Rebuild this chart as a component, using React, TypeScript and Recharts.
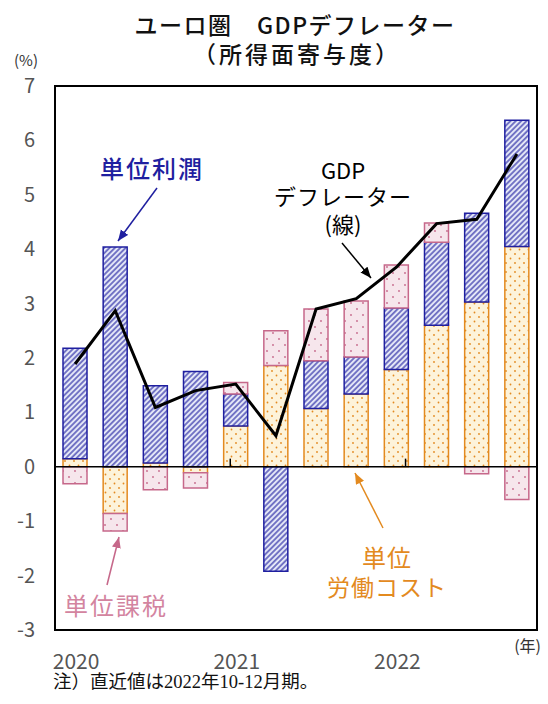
import React from "react";
import { Bar, ComposedChart, Line, ReferenceArea, ReferenceLine, XAxis, YAxis } from "recharts";

const quarters = ["2020Q1", "2020Q2", "2020Q3", "2020Q4", "2021Q1", "2021Q2", "2021Q3", "2021Q4", "2022Q1", "2022Q2", "2022Q3", "2022Q4"];
const laborCost = [0.15, -0.86, 0.07, -0.11, 0.75, 1.86, 1.07, 1.34, 1.79, 2.6, 3.03, 4.05];
const unitProfit = [2.03, 4.04, 1.42, 1.75, 0.59, -1.92, 0.88, 0.68, 1.13, 1.53, 1.63, 2.32];
const unitTax = [-0.31, -0.32, -0.42, -0.28, 0.21, 0.64, 0.95, 1.03, 0.79, 0.35, -0.13, -0.6];
const deflator = [1.89, 2.87, 1.09, 1.4, 1.52, 0.57, 2.9, 3.09, 3.67, 4.47, 4.55, 5.75];
const yTicks = [-3, -2, -1, 0, 1, 2, 3, 4, 5, 6, 7];
const yearBoundaries = [4, 8];

const data = quarters.map((q, i) => ({
  q,
  labor: laborCost[i],
  profit: unitProfit[i],
  tax: unitTax[i],
  deflator: deflator[i],
}));

const jp = "'Noto Sans CJK JP', 'Noto Sans', sans-serif";
const blue = "#1f1fa0";
const orange = "#e38a1f";
const pink = "#c6688a";

const YearTick = (props: any) => {
  const { x, y, payload } = props;
  const label = String(payload.value);
  if (!label.endsWith("Q1")) return null;
  return (
    <text x={x + 1} y={y + 39} textAnchor="middle" fontSize={21} fill="#555" fontFamily={jp}>
      {label.slice(0, 4)}
    </text>
  );
};

const ValueTick = (props: any) => {
  const { y, payload } = props;
  return (
    <text x={35} y={y + 7} textAnchor="end" fontSize={20} fill="#555" fontFamily={jp}>
      {payload.value}
    </text>
  );
};

export default function App() {
  return (
    <div style={{ position: "absolute", left: 0, top: 0, width: 548, height: 704, background: "#fff" }}>
      <svg width={0} height={0} style={{ position: "absolute" }}>
        <defs>
          <pattern id="hatchBlue" patternUnits="userSpaceOnUse" width={3.8} height={3.8} patternTransform="rotate(45)">
            <rect width={3.8} height={3.8} fill="#e4e7f7" />
            <line x1={1.9} y1={0} x2={1.9} y2={3.8} stroke="#2d2da6" strokeWidth={1.2} />
          </pattern>
          <pattern id="dotOrange" patternUnits="userSpaceOnUse" width={9} height={9}>
            <rect width={9} height={9} fill="#fdf3da" />
            <circle cx={2} cy={2} r={0.9} fill={orange} />
            <circle cx={6.5} cy={6.5} r={0.9} fill={orange} />
          </pattern>
          <pattern id="dotPink" patternUnits="userSpaceOnUse" width={12} height={12}>
            <rect width={12} height={12} fill="#f6e6ec" />
            <circle cx={3} cy={3} r={0.9} fill={pink} />
            <circle cx={9} cy={9} r={0.9} fill={pink} />
          </pattern>
          <marker id="arBlue" markerUnits="userSpaceOnUse" markerWidth={12} markerHeight={10} refX={11} refY={4.5} orient="auto">
            <path d="M0,0 L11,4.5 L0,9 z" fill={blue} />
          </marker>
          <marker id="arBlack" markerUnits="userSpaceOnUse" markerWidth={12} markerHeight={10} refX={11} refY={4.5} orient="auto">
            <path d="M0,0 L11,4.5 L0,9 z" fill="#000" />
          </marker>
          <marker id="arPink" markerUnits="userSpaceOnUse" markerWidth={12} markerHeight={10} refX={11} refY={4.5} orient="auto">
            <path d="M0,0 L11,4.5 L0,9 z" fill={pink} />
          </marker>
          <marker id="arOrange" markerUnits="userSpaceOnUse" markerWidth={12} markerHeight={10} refX={11} refY={4.5} orient="auto">
            <path d="M0,0 L11,4.5 L0,9 z" fill={orange} />
          </marker>
        </defs>
      </svg>

      <ComposedChart
        width={548}
        height={704}
        data={data}
        stackOffset="sign"
        margin={{ top: 86, right: 11, bottom: 34, left: 0 }}
      >
        <XAxis dataKey="q" height={40} axisLine={false} tickLine={false} tickSize={0} tickMargin={0} interval={0} tick={<YearTick />} />
        <XAxis xAxisId="n" type="number" domain={[0, 12]} hide />
        <YAxis width={55} domain={[-3, 7]} ticks={yTicks} interval={0} axisLine={false} tickLine={false} tick={<ValueTick />} />
        <Bar dataKey="labor" stackId="s" barSize={24} fill="url(#dotOrange)" stroke={orange} strokeWidth={1.5} isAnimationActive={false} />
        <Bar dataKey="profit" stackId="s" barSize={24} fill="url(#hatchBlue)" stroke={blue} strokeWidth={1.5} isAnimationActive={false} />
        <Bar dataKey="tax" stackId="s" barSize={24} fill="url(#dotPink)" stroke={pink} strokeWidth={1.5} isAnimationActive={false} />
        <ReferenceLine y={0} stroke="#000" strokeWidth={1.5} />
        {yearBoundaries.map((b) => (
          <ReferenceLine
            key={b}
            xAxisId="n"
            segment={[{ x: b, y: 0 }, { x: b, y: 0.15 }]}
            stroke="#000"
            strokeWidth={1.5}
          />
        ))}
        <Line dataKey="deflator" type="linear" stroke="#000" strokeWidth={3} dot={false} isAnimationActive={false} />
        <ReferenceArea y1={-3} y2={7} fill="none" stroke="#000" strokeWidth={2} ifOverflow="visible" />
      </ComposedChart>

      <svg width={548} height={704} style={{ position: "absolute", left: 0, top: 0, pointerEvents: "none" }} fontFamily={jp}>
        <text x={295} y={34} textAnchor="middle" fontSize={23} letterSpacing={1.5} fill="#111" fontWeight={500}>
          ユーロ圏　GDPデフレーター
        </text>
        <text x={297} y={63} textAnchor="middle" fontSize={23} letterSpacing={3} fill="#111" fontWeight={500}>
          （所得面寄与度）
        </text>
        <text x={26} y={66} textAnchor="middle" fontSize={15} fill="#333">(%)</text>
        <text x={541} y={652} textAnchor="end" fontSize={16} fill="#333">(年)</text>
        <text x={53} y={688} fontSize={18.5} fill="#111" fontFamily="'Liberation Serif', 'Noto Sans CJK JP', serif">
          注）直近値は2022年10-12月期。
        </text>

        <text x={152} y={178} textAnchor="middle" fontSize={24} letterSpacing={2} fill={blue} fontWeight={500}>単位利潤</text>
        <line x1={157} y1={188} x2={118} y2={241} stroke={blue} strokeWidth={1.5} markerEnd="url(#arBlue)" />

        <text x={343} y={179} textAnchor="middle" fontSize={22} fill="#000">GDP</text>
        <text x={343} y={205} textAnchor="middle" fontSize={22} letterSpacing={1} fill="#000">デフレーター</text>
        <text x={343} y={233} textAnchor="middle" fontSize={22} fill="#000">(線)</text>
        <line x1={342} y1={243} x2={371} y2={278} stroke="#000" strokeWidth={1.5} markerEnd="url(#arBlack)" />

        <text x={116} y={615} textAnchor="middle" fontSize={24} letterSpacing={2} fill="#d3849f">単位課税</text>
        <line x1={107} y1={585} x2={119} y2={537} stroke={pink} strokeWidth={1.5} markerEnd="url(#arPink)" />

        <text x={387} y={567} textAnchor="middle" fontSize={24} letterSpacing={1} fill={orange}>単位</text>
        <text x={387} y={596} textAnchor="middle" fontSize={23} letterSpacing={1} fill={orange}>労働コスト</text>
        <line x1={383} y1={528} x2={355} y2={473} stroke={orange} strokeWidth={1.5} markerEnd="url(#arOrange)" />
      </svg>
    </div>
  );
}
